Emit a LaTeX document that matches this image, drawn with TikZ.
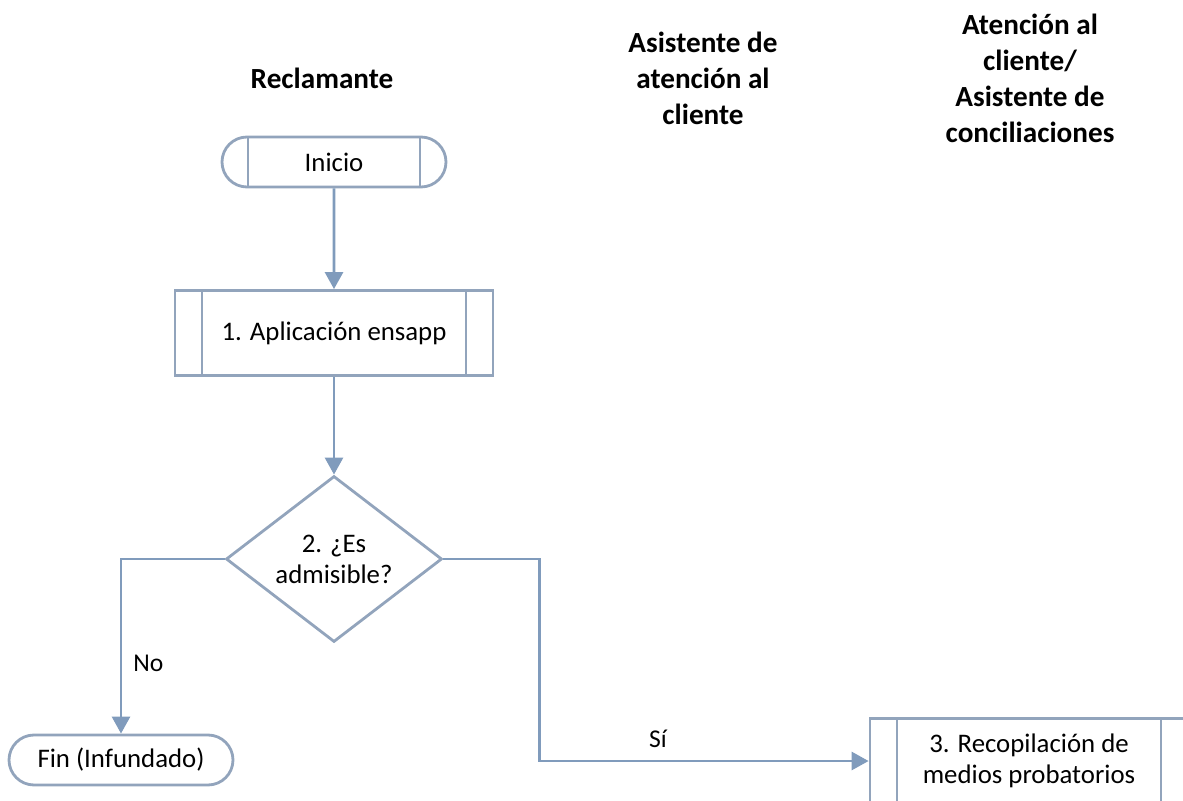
\documentclass[tikz,border=0pt]{standalone}
\usepackage{fontspec}
\setmainfont{Carlito}
\usetikzlibrary{shapes.geometric, shapes.misc, arrows.meta}
\definecolor{edge}{RGB}{146,164,188}
\definecolor{flowline}{RGB}{128,155,188}

\begin{document}
\begin{tikzpicture}[x=0.5pt, y=-0.5pt,
    lane/.style={font=\fontsize{14.6}{18}\selectfont\bfseries, align=center},
    txt/.style={font=\fontsize{13.4}{15.5}\selectfont, align=center},
    terminal/.style={txt, rounded rectangle, draw=edge, line width=1.4pt, fill=white,
        minimum width=112pt, minimum height=25pt, inner sep=0pt},
    subproc/.style={txt, rectangle, draw=edge, line width=1.4pt, fill=white,
        minimum width=159pt, minimum height=42.5pt, inner sep=0pt,
        path picture={
            \draw[edge, line width=1.4pt]
                ([xshift=13.5pt]path picture bounding box.north west) -- ([xshift=13.5pt]path picture bounding box.south west)
                ([xshift=-13.5pt]path picture bounding box.north east) -- ([xshift=-13.5pt]path picture bounding box.south east);
        }},
    decision/.style={txt, diamond, draw=edge, line width=1.4pt, fill=white,
        minimum width=108pt, minimum height=83pt, inner sep=0pt},
    flow/.style={draw=flowline, line width=1.4pt, -{Triangle[length=8.5pt, width=9pt]}},
    tag/.style={font=\fontsize{12.8}{15}\selectfont, inner sep=0pt}]

    \useasboundingbox (0,0) rectangle (1183,801);

    % lane headers
    \node[lane] (hrec) at (322,78) {Reclamante};
    \node[lane] (hasis) at (703,78) {Asistente de\\atención al\\cliente};
    \node[lane] (hconc) at (1030,78) {Atención al\\cliente/\\Asistente de\\conciliaciones};

    % steps
    \node[terminal, path picture={
            \draw[edge, line width=1.4pt]
                ([xshift=13pt]path picture bounding box.north west) -- ([xshift=13pt]path picture bounding box.south west)
                ([xshift=-13pt]path picture bounding box.north east) -- ([xshift=-13pt]path picture bounding box.south east);
        }] (inicio) at (334,162) {Inicio};
    \node[subproc] (app) at (334,333) {1. Aplicación ensapp};
    \node[decision] (adm) at (334,559) {2. ¿Es\\admisible?};
    \node[terminal] (fin) at (121,760) {Fin (Infundado)};
    \node[subproc] (recop) at (1029,761) {3. Recopilación de\\medios probatorios};

    % connectors
    \draw[flow] (inicio) -- (app);
    \draw[flow] (app) -- (adm);
    \draw[flow] (adm.west) -| node[tag, pos=0.8, right=5.5pt] {No} (fin.north);
    \draw[flow] (adm.east) -- ++(96,0) |- node[tag, pos=0.68, above=6pt] {Sí} (recop.west);
\end{tikzpicture}
\end{document}
